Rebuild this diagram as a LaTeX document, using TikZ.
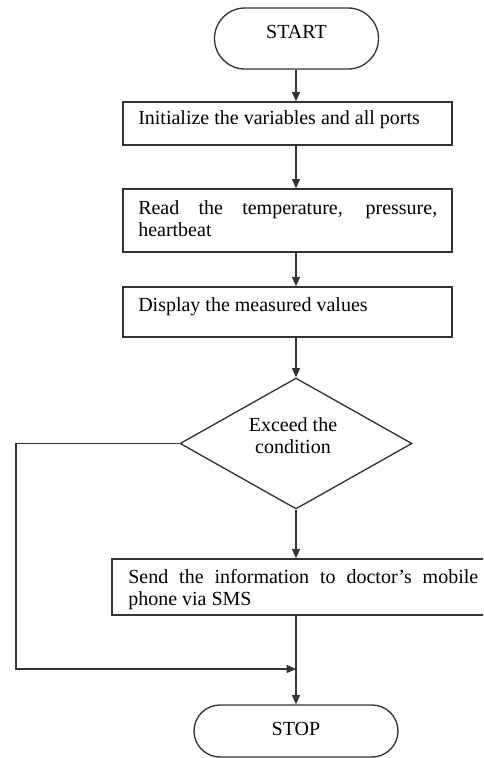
\documentclass[tikz,border=0pt]{standalone}
\usepackage{fontspec}
\setmainfont{Liberation Serif}
\usetikzlibrary{shapes.geometric,arrows.meta}
\hyphenpenalty=10000
\exhyphenpenalty=10000
\begin{document}
\begin{tikzpicture}[x=0.75pt,y=-0.75pt,
  line/.style={draw=black!80, line width=1pt},
  arr/.style={line, -{Triangle[length=7pt,width=6pt]}},
  box/.style={line, rectangle, inner sep=0pt},
  term/.style={line, rectangle, inner sep=0pt},
  lbl/.style={font=\fontsize{15}{16.5}\selectfont, inner sep=0pt},
]
\useasboundingbox (0,0) rectangle (483,758);
\clip (0,0) rectangle (483,758);
% terminals and boxes
\node[term, minimum width=123pt, minimum height=45.75pt, rounded corners=22.8pt] (start) at (296.5,38.5) {};
\node[lbl, anchor=base] (tstart) at (296.5,38) {START};

\node[box, minimum width=246.75pt, minimum height=32.25pt] (b1) at (287.5,123.5) {};
\node[lbl, anchor=base west] (t1) at (138,124) {Initialize the variables and all ports};

\node[box, minimum width=246.75pt, minimum height=47.25pt] (b2) at (287.5,220.5) {};
\node[lbl, anchor=base west, text width=224.25pt, align=justify] (t2) at (138,214) {Read the temperature, pressure, heartbeat};

\node[box, minimum width=246.75pt, minimum height=37.5pt] (b3) at (287.5,312) {};
\node[lbl, anchor=base west] (t3) at (138,311) {Display the measured values};

\node[line, diamond, minimum width=174pt, minimum height=98.25pt, inner sep=0pt] (dia) at (296,443.5) {};
\node[lbl, align=center] (tdia) at (293,436) {Exceed the\\condition};

\node[box, minimum width=300pt, minimum height=42pt] (b4) at (312,587) {};
\node[lbl, anchor=base west, text width=262.5pt, align=justify] (t4) at (128,583) {Send the information to doctor's mobile phone via SMS};

\node[term, minimum width=153pt, minimum height=39pt, rounded corners=19.5pt] (stop) at (296,731) {};
\node[lbl, anchor=base] (tstop) at (296,735) {STOP};

\coordinate (lc1) at (16,443.5);
\coordinate (lc2) at (16,669);

% connectors
\draw[arr] (start.south -| dia.north) -- (b1.north -| dia.north);
\draw[arr] (b1.south -| dia.north) -- (b2.north -| dia.north);
\draw[arr] (b2.south -| dia.north) -- (b3.north -| dia.north);
\draw[arr] (b3.south -| dia.north) -- (dia.north);
\draw[arr] (dia.south) -- (b4.north -| dia.south);
\draw[arr] (b4.south -| dia.south) -- (stop.north);
\draw[arr] (dia.west) -- (lc1) -- (lc2) -- (lc2 -| dia.south);
\end{tikzpicture}
\end{document}
